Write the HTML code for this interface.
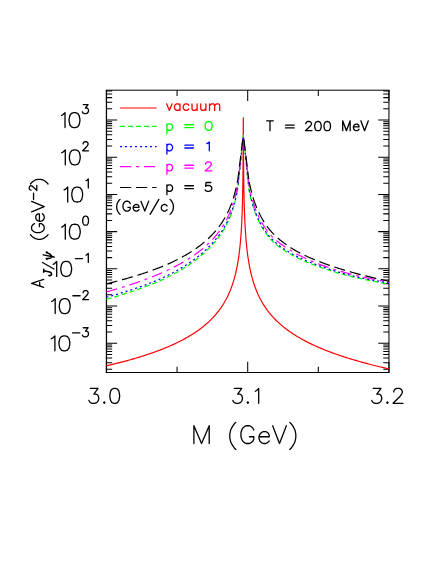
<!DOCTYPE html>
<html><head><meta charset="utf-8"><title>plot</title><style>html,body{margin:0;padding:0;background:#fff;font-family:"Liberation Sans",sans-serif}svg{display:block;position:absolute;left:0;top:0}</style></head><body><svg width="436" height="564" viewBox="0 0 436 564"><path d="M106.45 90.0V373.05" fill="none" stroke="#000" stroke-width="1.25"/>
<path d="M388.95 90.0V373.05" fill="none" stroke="#000" stroke-width="1.05"/>
<path d="M105.85000000000001 90.2H389.45" fill="none" stroke="#000" stroke-width="1.0"/>
<path d="M105.85000000000001 372.5H389.45" fill="none" stroke="#000" stroke-width="1.1"/>
<path d="M106.45 369.20h5.7 M388.95 369.20h-5.7 M106.45 362.65h5.7 M388.95 362.65h-5.7 M106.45 358.00h5.7 M388.95 358.00h-5.7 M106.45 354.40h5.7 M388.95 354.40h-5.7 M106.45 351.45h5.7 M388.95 351.45h-5.7 M106.45 348.96h5.7 M388.95 348.96h-5.7 M106.45 346.81h5.7 M388.95 346.81h-5.7 M106.45 344.90h5.7 M388.95 344.90h-5.7 M106.45 343.20h10.7 M388.95 343.20h-10.7 M106.45 332.00h5.7 M388.95 332.00h-5.7 M106.45 325.45h5.7 M388.95 325.45h-5.7 M106.45 320.80h5.7 M388.95 320.80h-5.7 M106.45 317.20h5.7 M388.95 317.20h-5.7 M106.45 314.25h5.7 M388.95 314.25h-5.7 M106.45 311.76h5.7 M388.95 311.76h-5.7 M106.45 309.61h5.7 M388.95 309.61h-5.7 M106.45 307.70h5.7 M388.95 307.70h-5.7 M106.45 306.00h10.7 M388.95 306.00h-10.7 M106.45 294.80h5.7 M388.95 294.80h-5.7 M106.45 288.25h5.7 M388.95 288.25h-5.7 M106.45 283.60h5.7 M388.95 283.60h-5.7 M106.45 280.00h5.7 M388.95 280.00h-5.7 M106.45 277.05h5.7 M388.95 277.05h-5.7 M106.45 274.56h5.7 M388.95 274.56h-5.7 M106.45 272.41h5.7 M388.95 272.41h-5.7 M106.45 270.50h5.7 M388.95 270.50h-5.7 M106.45 268.80h10.7 M388.95 268.80h-10.7 M106.45 257.60h5.7 M388.95 257.60h-5.7 M106.45 251.05h5.7 M388.95 251.05h-5.7 M106.45 246.40h5.7 M388.95 246.40h-5.7 M106.45 242.80h5.7 M388.95 242.80h-5.7 M106.45 239.85h5.7 M388.95 239.85h-5.7 M106.45 237.36h5.7 M388.95 237.36h-5.7 M106.45 235.21h5.7 M388.95 235.21h-5.7 M106.45 233.30h5.7 M388.95 233.30h-5.7 M106.45 231.60h10.7 M388.95 231.60h-10.7 M106.45 220.40h5.7 M388.95 220.40h-5.7 M106.45 213.85h5.7 M388.95 213.85h-5.7 M106.45 209.20h5.7 M388.95 209.20h-5.7 M106.45 205.60h5.7 M388.95 205.60h-5.7 M106.45 202.65h5.7 M388.95 202.65h-5.7 M106.45 200.16h5.7 M388.95 200.16h-5.7 M106.45 198.01h5.7 M388.95 198.01h-5.7 M106.45 196.10h5.7 M388.95 196.10h-5.7 M106.45 194.40h10.7 M388.95 194.40h-10.7 M106.45 183.20h5.7 M388.95 183.20h-5.7 M106.45 176.65h5.7 M388.95 176.65h-5.7 M106.45 172.00h5.7 M388.95 172.00h-5.7 M106.45 168.40h5.7 M388.95 168.40h-5.7 M106.45 165.45h5.7 M388.95 165.45h-5.7 M106.45 162.96h5.7 M388.95 162.96h-5.7 M106.45 160.81h5.7 M388.95 160.81h-5.7 M106.45 158.90h5.7 M388.95 158.90h-5.7 M106.45 157.20h10.7 M388.95 157.20h-10.7 M106.45 146.00h5.7 M388.95 146.00h-5.7 M106.45 139.45h5.7 M388.95 139.45h-5.7 M106.45 134.80h5.7 M388.95 134.80h-5.7 M106.45 131.20h5.7 M388.95 131.20h-5.7 M106.45 128.25h5.7 M388.95 128.25h-5.7 M106.45 125.76h5.7 M388.95 125.76h-5.7 M106.45 123.61h5.7 M388.95 123.61h-5.7 M106.45 121.70h5.7 M388.95 121.70h-5.7 M106.45 120.00h10.7 M388.95 120.00h-10.7 M106.45 108.80h5.7 M388.95 108.80h-5.7 M106.45 102.25h5.7 M388.95 102.25h-5.7 M106.45 97.60h5.7 M388.95 97.60h-5.7 M106.45 94.00h5.7 M388.95 94.00h-5.7 M106.45 91.05h5.7 M388.95 91.05h-5.7 M106.45 372.5v-10.7 M106.45 90.2v10.7 M177.07 372.5v-5.7 M177.07 90.2v5.7 M247.70 372.5v-10.7 M247.70 90.2v10.7 M318.32 372.5v-5.7 M318.32 90.2v5.7 M388.95 372.5v-10.7 M388.95 90.2v10.7" fill="none" stroke="#000" stroke-width="1.05"/>
<path d="M106.45 365.87 L107.45 365.64 L108.45 365.40 L109.45 365.16 L110.45 364.93 L111.45 364.69 L112.45 364.44 L113.45 364.20 L114.45 363.95 L115.45 363.70 L116.45 363.45 L117.45 363.20 L118.45 362.95 L119.45 362.69 L120.45 362.43 L121.45 362.17 L122.45 361.91 L123.45 361.65 L124.45 361.38 L125.45 361.11 L126.45 360.84 L127.45 360.57 L128.45 360.29 L129.45 360.01 L130.45 359.73 L131.45 359.45 L132.45 359.16 L133.45 358.87 L134.45 358.58 L135.45 358.28 L136.45 357.99 L137.45 357.69 L138.45 357.38 L139.45 357.08 L140.45 356.77 L141.45 356.46 L142.45 356.14 L143.45 355.82 L144.45 355.50 L145.45 355.18 L146.45 354.85 L147.45 354.52 L148.45 354.18 L149.45 353.84 L150.45 353.50 L151.45 353.16 L152.45 352.81 L153.45 352.45 L154.45 352.09 L155.45 351.73 L156.45 351.37 L157.45 351.00 L158.45 350.62 L159.45 350.24 L160.45 349.86 L161.45 349.47 L162.45 349.08 L163.45 348.68 L164.45 348.27 L165.45 347.87 L166.45 347.45 L167.45 347.03 L168.45 346.61 L169.45 346.18 L170.45 345.74 L171.45 345.30 L172.45 344.85 L173.45 344.39 L174.45 343.93 L175.45 343.46 L176.45 342.99 L177.45 342.50 L178.45 342.01 L179.45 341.51 L180.45 341.01 L181.45 340.49 L182.45 339.97 L183.45 339.44 L184.45 338.90 L185.45 338.35 L186.45 337.79 L187.45 337.22 L188.45 336.64 L189.45 336.05 L190.45 335.45 L191.45 334.84 L192.45 334.21 L193.45 333.57 L194.45 332.92 L195.45 332.26 L196.45 331.58 L197.45 330.89 L198.45 330.18 L199.45 329.45 L200.45 328.71 L201.45 327.95 L202.45 327.17 L203.45 326.38 L204.45 325.56 L205.45 324.72 L206.45 323.86 L207.45 322.98 L208.45 322.07 L209.45 321.13 L210.45 320.17 L211.45 319.17 L212.45 318.15 L213.45 317.09 L214.45 315.99 L215.45 314.85 L216.45 313.68 L217.45 312.45 L218.45 311.18 L219.45 309.86 L220.45 308.48 L221.45 307.04 L222.45 305.53 L223.45 303.95 L224.45 302.29 L225.45 300.53 L226.45 298.67 L227.45 296.70 L228.45 294.60 L229.45 292.36 L230.45 289.95 L231.45 287.34 L232.45 284.50 L233.45 281.38 L234.45 277.93 L235.45 274.07 L235.65 273.24 L235.85 272.39 L236.05 271.51 L236.25 270.61 L236.45 269.69 L236.65 268.73 L236.85 267.75 L237.05 266.74 L237.25 265.69 L237.45 264.61 L237.65 263.49 L237.85 262.33 L238.05 261.13 L238.25 259.88 L238.45 258.58 L238.65 257.23 L238.85 255.82 L239.05 254.34 L239.25 252.79 L239.45 251.16 L239.65 249.45 L239.85 247.64 L240.05 245.73 L240.25 243.69 L240.45 241.51 L240.65 239.18 L240.85 236.67 L241.05 233.95 L241.25 230.97 L241.45 227.69 L241.65 224.05 L241.85 219.94 L242.05 215.23 L242.25 209.71 L242.45 203.06 L242.65 194.69 L242.85 183.41 L243.05 166.11 L243.25 131.28 L243.32 117.80 L243.52 156.93 L243.72 178.22 L243.92 191.11 L244.12 200.33 L244.32 207.50 L244.52 213.38 L244.72 218.35 L244.92 222.65 L245.12 226.46 L245.32 229.86 L245.52 232.93 L245.72 235.74 L245.92 238.33 L246.12 240.72 L246.32 242.95 L246.52 245.04 L246.72 247.00 L246.92 248.84 L247.12 250.59 L247.32 252.25 L247.52 253.83 L247.72 255.33 L247.92 256.77 L248.12 258.14 L248.32 259.46 L248.52 260.73 L248.72 261.95 L248.92 263.12 L249.12 264.26 L249.32 265.36 L249.52 266.42 L249.72 267.44 L249.92 268.44 L250.12 269.40 L250.32 270.34 L250.52 271.25 L250.72 272.14 L250.92 273.00 L251.12 273.84 L251.32 274.66 L251.52 275.46 L252.52 279.18 L253.52 282.51 L254.52 285.54 L255.52 288.31 L256.52 290.86 L257.52 293.22 L258.52 295.42 L259.52 297.48 L260.52 299.42 L261.52 301.25 L262.52 302.99 L263.52 304.63 L264.52 306.19 L265.52 307.69 L266.52 309.11 L267.52 310.48 L268.52 311.79 L269.52 313.06 L270.52 314.27 L271.52 315.44 L272.52 316.57 L273.52 317.66 L274.52 318.72 L275.52 319.74 L276.52 320.73 L277.52 321.69 L278.52 322.63 L279.52 323.54 L280.52 324.42 L281.52 325.28 L282.52 326.12 L283.52 326.94 L284.52 327.74 L285.52 328.52 L286.52 329.28 L287.52 330.02 L288.52 330.75 L289.52 331.46 L290.52 332.15 L291.52 332.83 L292.52 333.50 L293.52 334.15 L294.52 334.79 L295.52 335.42 L296.52 336.04 L297.52 336.65 L298.52 337.24 L299.52 337.82 L300.52 338.40 L301.52 338.96 L302.52 339.52 L303.52 340.06 L304.52 340.60 L305.52 341.12 L306.52 341.64 L307.52 342.15 L308.52 342.66 L309.52 343.15 L310.52 343.64 L311.52 344.12 L312.52 344.60 L313.52 345.06 L314.52 345.52 L315.52 345.98 L316.52 346.43 L317.52 346.87 L318.52 347.30 L319.52 347.73 L320.52 348.16 L321.52 348.58 L322.52 348.99 L323.52 349.40 L324.52 349.81 L325.52 350.21 L326.52 350.60 L327.52 350.99 L328.52 351.37 L329.52 351.76 L330.52 352.13 L331.52 352.50 L332.52 352.87 L333.52 353.24 L334.52 353.60 L335.52 353.95 L336.52 354.30 L337.52 354.65 L338.52 355.00 L339.52 355.34 L340.52 355.68 L341.52 356.01 L342.52 356.34 L343.52 356.67 L344.52 356.99 L345.52 357.32 L346.52 357.63 L347.52 357.95 L348.52 358.26 L349.52 358.57 L350.52 358.88 L351.52 359.18 L352.52 359.48 L353.52 359.78 L354.52 360.08 L355.52 360.37 L356.52 360.66 L357.52 360.95 L358.52 361.23 L359.52 361.51 L360.52 361.79 L361.52 362.07 L362.52 362.35 L363.52 362.62 L364.52 362.89 L365.52 363.16 L366.52 363.43 L367.52 363.69 L368.52 363.96 L369.52 364.22 L370.52 364.48 L371.52 364.73 L372.52 364.99 L373.52 365.24 L374.52 365.49 L375.52 365.74 L376.52 365.99 L377.52 366.23 L378.52 366.48 L379.52 366.72 L380.52 366.96 L381.52 367.20 L382.52 367.43 L383.52 367.67 L384.52 367.90 L385.52 368.13 L386.52 368.36 L387.52 368.59 L388.52 368.82 L388.95 368.92" fill="none" stroke="#ff0000" stroke-width="1.2" stroke-linejoin="round"/>
<path d="M106.45 299.31 L107.45 299.03 L108.45 298.74 L109.45 298.46 L110.45 298.17 L111.45 297.88 L112.45 297.58 L113.45 297.29 L114.45 296.99 L115.45 296.70 L116.45 296.39 L117.45 296.09 L118.45 295.79 L119.45 295.48 L120.45 295.17 L121.45 294.86 L122.45 294.55 L123.45 294.23 L124.45 293.92 L125.45 293.60 L126.45 293.27 L127.45 292.95 L128.45 292.62 L129.45 292.29 L130.45 291.96 L131.45 291.63 L132.45 291.29 L133.45 290.95 L134.45 290.61 L135.45 290.26 L136.45 289.92 L137.45 289.57 L138.45 289.21 L139.45 288.86 L140.45 288.50 L141.45 288.14 L142.45 287.77 L143.45 287.40 L144.45 287.03 L145.45 286.65 L146.45 286.28 L147.45 285.89 L148.45 285.51 L149.45 285.12 L150.45 284.73 L151.45 284.33 L152.45 283.93 L153.45 283.52 L154.45 283.12 L155.45 282.70 L156.45 282.29 L157.45 281.87 L158.45 281.44 L159.45 281.01 L160.45 280.58 L161.45 280.14 L162.45 279.69 L163.45 279.23 L164.45 278.74 L165.45 278.25 L166.45 277.76 L167.45 277.26 L168.45 276.75 L169.45 276.24 L170.45 275.72 L171.45 275.19 L172.45 274.66 L173.45 274.13 L174.45 273.58 L175.45 273.03 L176.45 272.47 L177.45 271.91 L178.45 271.33 L179.45 270.75 L180.45 270.17 L181.45 269.57 L182.45 268.97 L183.45 268.35 L184.45 267.73 L185.45 267.10 L186.45 266.46 L187.45 265.80 L188.45 265.14 L189.45 264.47 L190.45 263.79 L191.45 263.09 L192.45 262.38 L193.45 261.66 L194.45 260.93 L195.45 260.19 L196.45 259.43 L197.45 258.65 L198.45 257.86 L199.45 257.05 L200.45 256.23 L201.45 255.39 L202.45 254.53 L203.45 253.65 L204.45 252.76 L205.45 251.84 L206.45 250.89 L207.45 249.93 L208.45 248.94 L209.45 247.92 L210.45 246.87 L211.45 245.80 L212.45 244.69 L213.45 243.60 L214.45 242.48 L215.45 241.31 L216.45 240.11 L217.45 238.85 L218.45 237.56 L219.45 236.20 L220.45 234.80 L221.45 233.33 L222.45 231.79 L223.45 230.18 L224.45 228.49 L225.45 226.71 L226.45 224.83 L227.45 222.84 L228.45 220.72 L229.45 218.45 L230.45 216.02 L231.45 213.40 L232.45 210.55 L233.45 207.44 L234.45 204.01 L235.45 200.17 L236.45 195.85 L237.45 190.87 L237.92 188.25" fill="none" stroke="#00ff00" stroke-width="1.2" stroke-dasharray="5.1 2.93" stroke-linejoin="round"/>
<path d="M388.95 284.05 L388.72 284.01 L387.72 283.84 L386.72 283.68 L385.72 283.51 L384.72 283.33 L383.72 283.16 L382.72 282.99 L381.72 282.81 L380.72 282.63 L379.72 282.45 L378.72 282.27 L377.72 282.08 L376.72 281.90 L375.72 281.71 L374.72 281.52 L373.72 281.33 L372.72 281.14 L371.72 280.94 L370.72 280.75 L369.72 280.55 L368.72 280.35 L367.72 280.15 L366.72 279.94 L365.72 279.73 L364.72 279.52 L363.72 279.31 L362.72 279.10 L361.72 278.88 L360.72 278.67 L359.72 278.44 L358.72 278.22 L357.72 278.00 L356.72 277.77 L355.72 277.54 L354.72 277.31 L353.72 277.07 L352.72 276.83 L351.72 276.59 L350.72 276.34 L349.72 276.09 L348.72 275.84 L347.72 275.59 L346.72 275.33 L345.72 275.07 L344.72 274.81 L343.72 274.54 L342.72 274.27 L341.72 274.00 L340.72 273.72 L339.72 273.44 L338.72 273.16 L337.72 272.87 L336.72 272.58 L335.72 272.29 L334.72 271.99 L333.72 271.69 L332.72 271.38 L331.72 271.07 L330.72 270.76 L329.72 270.44 L328.72 270.12 L327.72 269.79 L326.72 269.46 L325.72 269.13 L324.72 268.79 L323.72 268.44 L322.72 268.09 L321.72 267.73 L320.72 267.37 L319.72 267.01 L318.72 266.64 L317.72 266.28 L316.72 265.94 L315.72 265.59 L314.72 265.24 L313.72 264.87 L312.72 264.51 L311.72 264.13 L310.72 263.75 L309.72 263.36 L308.72 262.97 L307.72 262.56 L306.72 262.15 L305.72 261.73 L304.72 261.30 L303.72 260.87 L302.72 260.42 L301.72 259.97 L300.72 259.51 L299.72 259.03 L298.72 258.55 L297.72 258.05 L296.72 257.55 L295.72 257.03 L294.72 256.51 L293.72 255.97 L292.72 255.41 L291.72 254.85 L290.72 254.27 L289.72 253.69 L288.72 253.12 L287.72 252.54 L286.72 251.94 L285.72 251.32 L284.72 250.69 L283.72 250.04 L282.72 249.36 L281.72 248.67 L280.72 247.96 L279.72 247.22 L278.72 246.45 L277.72 245.67 L276.72 244.85 L275.72 244.01 L274.72 243.13 L273.72 242.22 L272.72 241.28 L271.72 240.30 L270.72 239.28 L269.72 238.22 L268.72 237.09 L267.72 235.81 L266.72 234.48 L265.72 233.09 L264.72 231.64 L263.72 230.11 L262.72 228.51 L261.72 226.82 L260.72 225.04 L259.72 223.16 L258.72 221.15 L257.72 219.01 L256.72 216.72 L255.72 214.25 L254.72 211.57 L253.72 208.65 L252.72 205.44 L251.72 201.87 L250.72 197.87 L249.72 193.30 L248.72 188.00" fill="none" stroke="#00ff00" stroke-width="1.2" stroke-dasharray="5.1 2.93" stroke-dashoffset="5.1" stroke-linejoin="round"/>
<path d="M243.32 134.80 L237.92 188.25" fill="none" stroke="#00ff00" stroke-width="1.2" stroke-dasharray="5.1 2.93" stroke-dashoffset="2.1" stroke-linejoin="round"/>
<path d="M243.32 134.80 L248.72 188.00" fill="none" stroke="#00ff00" stroke-width="1.2" stroke-dasharray="5.1 2.93" stroke-dashoffset="2.1" stroke-linejoin="round"/>
<path d="M106.45 297.30 L107.45 297.02 L108.45 296.74 L109.45 296.46 L110.45 296.18 L111.45 295.89 L112.45 295.61 L113.45 295.32 L114.45 295.03 L115.45 294.73 L116.45 294.44 L117.45 294.14 L118.45 293.84 L119.45 293.54 L120.45 293.24 L121.45 292.93 L122.45 292.63 L123.45 292.32 L124.45 292.00 L125.45 291.69 L126.45 291.37 L127.45 291.05 L128.45 290.73 L129.45 290.41 L130.45 290.08 L131.45 289.75 L132.45 289.42 L133.45 289.09 L134.45 288.75 L135.45 288.41 L136.45 288.07 L137.45 287.73 L138.45 287.38 L139.45 287.03 L140.45 286.67 L141.45 286.32 L142.45 285.96 L143.45 285.59 L144.45 285.23 L145.45 284.86 L146.45 284.48 L147.45 284.11 L148.45 283.73 L149.45 283.34 L150.45 282.96 L151.45 282.56 L152.45 282.17 L153.45 281.77 L154.45 281.37 L155.45 280.96 L156.45 280.55 L157.45 280.13 L158.45 279.72 L159.45 279.29 L160.45 278.86 L161.45 278.43 L162.45 277.99 L163.45 277.53 L164.45 277.04 L165.45 276.55 L166.45 276.06 L167.45 275.56 L168.45 275.05 L169.45 274.54 L170.45 274.02 L171.45 273.49 L172.45 272.96 L173.45 272.42 L174.45 271.88 L175.45 271.33 L176.45 270.77 L177.45 270.21 L178.45 269.63 L179.45 269.05 L180.45 268.46 L181.45 267.87 L182.45 267.26 L183.45 266.65 L184.45 266.03 L185.45 265.40 L186.45 264.75 L187.45 264.10 L188.45 263.44 L189.45 262.77 L190.45 262.09 L191.45 261.39 L192.45 260.68 L193.45 259.96 L194.45 259.23 L195.45 258.48 L196.45 257.72 L197.45 256.95 L198.45 256.16 L199.45 255.35 L200.45 254.53 L201.45 253.69 L202.45 252.83 L203.45 251.95 L204.45 251.05 L205.45 250.13 L206.45 249.19 L207.45 248.23 L208.45 247.23 L209.45 246.22 L210.45 245.17 L211.45 244.10 L212.45 242.99 L213.45 241.92 L214.45 240.80 L215.45 239.65 L216.45 238.46 L217.45 237.23 L218.45 235.94 L219.45 234.60 L220.45 233.21 L221.45 231.76 L222.45 230.24 L223.45 228.64 L224.45 226.96 L225.45 225.20 L226.45 223.33 L227.45 221.35 L228.45 219.25 L229.45 217.00 L230.45 214.58 L231.45 211.98 L232.45 209.15 L233.45 206.05 L234.45 202.63 L235.45 198.82 L236.45 194.51 L237.45 189.57 L237.92 186.96" fill="none" stroke="#0000ff" stroke-width="1.2" stroke-dasharray="2 3" stroke-linejoin="round"/>
<path d="M388.95 282.91 L388.72 282.87 L387.72 282.71 L386.72 282.55 L385.72 282.39 L384.72 282.23 L383.72 282.06 L382.72 281.89 L381.72 281.72 L380.72 281.55 L379.72 281.38 L378.72 281.21 L377.72 281.03 L376.72 280.85 L375.72 280.67 L374.72 280.49 L373.72 280.31 L372.72 280.12 L371.72 279.93 L370.72 279.74 L369.72 279.55 L368.72 279.36 L367.72 279.17 L366.72 278.97 L365.72 278.77 L364.72 278.57 L363.72 278.36 L362.72 278.16 L361.72 277.95 L360.72 277.74 L359.72 277.53 L358.72 277.31 L357.72 277.09 L356.72 276.87 L355.72 276.65 L354.72 276.42 L353.72 276.20 L352.72 275.95 L351.72 275.69 L350.72 275.44 L349.72 275.18 L348.72 274.92 L347.72 274.66 L346.72 274.39 L345.72 274.12 L344.72 273.85 L343.72 273.57 L342.72 273.29 L341.72 273.01 L340.72 272.72 L339.72 272.43 L338.72 272.14 L337.72 271.84 L336.72 271.54 L335.72 271.24 L334.72 270.93 L333.72 270.62 L332.72 270.30 L331.72 269.98 L330.72 269.66 L329.72 269.33 L328.72 269.00 L327.72 268.66 L326.72 268.32 L325.72 267.98 L324.72 267.63 L323.72 267.27 L322.72 266.91 L321.72 266.54 L320.72 266.17 L319.72 265.80 L318.72 265.41 L317.72 265.06 L316.72 264.72 L315.72 264.37 L314.72 264.02 L313.72 263.66 L312.72 263.29 L311.72 262.92 L310.72 262.54 L309.72 262.16 L308.72 261.76 L307.72 261.36 L306.72 260.95 L305.72 260.53 L304.72 260.11 L303.72 259.68 L302.72 259.23 L301.72 258.78 L300.72 258.32 L299.72 257.85 L298.72 257.37 L297.72 256.87 L296.72 256.37 L295.72 255.86 L294.72 255.33 L293.72 254.79 L292.72 254.24 L291.72 253.68 L290.72 253.10 L289.72 252.52 L288.72 251.94 L287.72 251.35 L286.72 250.74 L285.72 250.11 L284.72 249.47 L283.72 248.80 L282.72 248.12 L281.72 247.42 L280.72 246.69 L279.72 245.94 L278.72 245.17 L277.72 244.37 L276.72 243.54 L275.72 242.69 L274.72 241.80 L273.72 240.89 L272.72 239.93 L271.72 238.94 L270.72 237.91 L269.72 236.84 L268.72 235.70 L267.72 234.43 L266.72 233.10 L265.72 231.72 L264.72 230.27 L263.72 228.75 L262.72 227.16 L261.72 225.47 L260.72 223.70 L259.72 221.82 L258.72 219.82 L257.72 217.68 L256.72 215.39 L255.72 212.93 L254.72 210.26 L253.72 207.35 L252.72 204.14 L251.72 200.59 L250.72 196.59 L249.72 192.04 L248.72 186.76" fill="none" stroke="#0000ff" stroke-width="1.2" stroke-dasharray="2 3" stroke-dashoffset="0" stroke-linejoin="round"/>
<path d="M243.32 134.80 L237.92 186.96" fill="none" stroke="#0000ff" stroke-width="1.2" stroke-dasharray="2 3" stroke-dashoffset="2" stroke-linejoin="round"/>
<path d="M243.32 134.80 L248.72 186.76" fill="none" stroke="#0000ff" stroke-width="1.2" stroke-dasharray="2 3" stroke-dashoffset="2" stroke-linejoin="round"/>
<path d="M106.45 291.91 L107.45 291.63 L108.45 291.35 L109.45 291.07 L110.45 290.78 L111.45 290.50 L112.45 290.21 L113.45 289.92 L114.45 289.63 L115.45 289.33 L116.45 289.04 L117.45 288.74 L118.45 288.44 L119.45 288.14 L120.45 287.83 L121.45 287.53 L122.45 287.22 L123.45 286.91 L124.45 286.60 L125.45 286.28 L126.45 285.96 L127.45 285.65 L128.45 285.32 L129.45 285.00 L130.45 284.67 L131.45 284.34 L132.45 284.01 L133.45 283.68 L134.45 283.34 L135.45 283.00 L136.45 282.65 L137.45 282.31 L138.45 281.96 L139.45 281.61 L140.45 281.25 L141.45 280.90 L142.45 280.54 L143.45 280.17 L144.45 279.80 L145.45 279.43 L146.45 279.06 L147.45 278.68 L148.45 278.30 L149.45 277.92 L150.45 277.53 L151.45 277.14 L152.45 276.74 L153.45 276.34 L154.45 275.94 L155.45 275.53 L156.45 275.12 L157.45 274.70 L158.45 274.28 L159.45 273.86 L160.45 273.43 L161.45 272.99 L162.45 272.56 L163.45 272.11 L164.45 271.67 L165.45 271.21 L166.45 270.76 L167.45 270.29 L168.45 269.82 L169.45 269.35 L170.45 268.87 L171.45 268.38 L172.45 267.89 L173.45 267.39 L174.45 266.89 L175.45 266.37 L176.45 265.86 L177.45 265.33 L178.45 264.79 L179.45 264.25 L180.45 263.70 L181.45 263.15 L182.45 262.58 L183.45 262.00 L184.45 261.42 L185.45 260.83 L186.45 260.22 L187.45 259.61 L188.45 258.99 L189.45 258.35 L190.45 257.71 L191.45 257.05 L192.45 256.38 L193.45 255.70 L194.45 255.01 L195.45 254.30 L196.45 253.58 L197.45 252.84 L198.45 252.09 L199.45 251.32 L200.45 250.54 L201.45 249.74 L202.45 248.92 L203.45 248.08 L204.45 247.22 L205.45 246.34 L206.45 245.43 L207.45 244.51 L208.45 243.55 L209.45 242.58 L210.45 241.57 L211.45 240.53 L212.45 239.46 L213.45 238.39 L214.45 237.28 L215.45 236.12 L216.45 234.93 L217.45 233.69 L218.45 232.41 L219.45 231.07 L220.45 229.68 L221.45 228.22 L222.45 226.70 L223.45 225.11 L224.45 223.43 L225.45 221.66 L226.45 219.80 L227.45 217.82 L228.45 215.72 L229.45 213.47 L230.45 211.06 L231.45 208.45 L232.45 205.63 L233.45 202.54 L234.45 199.13 L235.45 195.34 L236.45 191.05 L237.45 186.14 L237.92 183.55" fill="none" stroke="#ff00ff" stroke-width="1.2" stroke-dasharray="11.2 4.85 3 4.85" stroke-linejoin="round"/>
<path d="M388.95 282.02 L388.72 281.98 L387.72 281.81 L386.72 281.63 L385.72 281.46 L384.72 281.28 L383.72 281.10 L382.72 280.92 L381.72 280.74 L380.72 280.56 L379.72 280.37 L378.72 280.19 L377.72 280.00 L376.72 279.81 L375.72 279.62 L374.72 279.42 L373.72 279.23 L372.72 279.03 L371.72 278.83 L370.72 278.63 L369.72 278.43 L368.72 278.22 L367.72 278.01 L366.72 277.80 L365.72 277.59 L364.72 277.38 L363.72 277.16 L362.72 276.94 L361.72 276.72 L360.72 276.50 L359.72 276.27 L358.72 276.05 L357.72 275.82 L356.72 275.58 L355.72 275.35 L354.72 275.11 L353.72 274.87 L352.72 274.62 L351.72 274.36 L350.72 274.10 L349.72 273.84 L348.72 273.57 L347.72 273.31 L346.72 273.04 L345.72 272.76 L344.72 272.48 L343.72 272.20 L342.72 271.92 L341.72 271.63 L340.72 271.34 L339.72 271.05 L338.72 270.75 L337.72 270.45 L336.72 270.15 L335.72 269.84 L334.72 269.53 L333.72 269.21 L332.72 268.90 L331.72 268.57 L330.72 268.24 L329.72 267.91 L328.72 267.58 L327.72 267.24 L326.72 266.89 L325.72 266.54 L324.72 266.19 L323.72 265.83 L322.72 265.46 L321.72 265.09 L320.72 264.72 L319.72 264.34 L318.72 263.95 L317.72 263.57 L316.72 263.18 L315.72 262.79 L314.72 262.40 L313.72 261.99 L312.72 261.58 L311.72 261.17 L310.72 260.74 L309.72 260.31 L308.72 259.88 L307.72 259.43 L306.72 258.98 L305.72 258.52 L304.72 258.05 L303.72 257.57 L302.72 257.08 L301.72 256.59 L300.72 256.08 L299.72 255.56 L298.72 255.04 L297.72 254.50 L296.72 253.96 L295.72 253.40 L294.72 252.83 L293.72 252.25 L292.72 251.65 L291.72 251.04 L290.72 250.42 L289.72 249.81 L288.72 249.22 L287.72 248.62 L286.72 248.00 L285.72 247.37 L284.72 246.72 L283.72 246.04 L282.72 245.35 L281.72 244.64 L280.72 243.91 L279.72 243.15 L278.72 242.37 L277.72 241.56 L276.72 240.73 L275.72 239.86 L274.72 238.97 L273.72 238.04 L272.72 237.08 L271.72 236.08 L270.72 235.04 L269.72 233.96 L268.72 232.82 L267.72 231.52 L266.72 230.16 L265.72 228.75 L264.72 227.28 L263.72 225.73 L262.72 224.11 L261.72 222.41 L260.72 220.61 L259.72 218.70 L258.72 216.68 L257.72 214.52 L256.72 212.21 L255.72 209.72 L254.72 207.03 L253.72 204.09 L252.72 200.87 L251.72 197.30 L250.72 193.30 L249.72 188.75 L248.72 183.49" fill="none" stroke="#ff00ff" stroke-width="1.2" stroke-dasharray="11.2 4.85 3 4.85" stroke-dashoffset="9.55" stroke-linejoin="round"/>
<path d="M243.32 134.80 L237.92 183.55" fill="none" stroke="#ff00ff" stroke-width="1.2" stroke-dasharray="11.2 4.85 3 4.85" stroke-dashoffset="19.05" stroke-linejoin="round"/>
<path d="M243.32 134.80 L248.72 183.49" fill="none" stroke="#ff00ff" stroke-width="1.2" stroke-dasharray="11.2 4.85 3 4.85" stroke-dashoffset="19.05" stroke-linejoin="round"/>
<path d="M106.45 283.79 L107.45 283.55 L108.45 283.30 L109.45 283.06 L110.45 282.81 L111.45 282.56 L112.45 282.31 L113.45 282.05 L114.45 281.80 L115.45 281.54 L116.45 281.28 L117.45 281.02 L118.45 280.75 L119.45 280.49 L120.45 280.22 L121.45 279.95 L122.45 279.67 L123.45 279.40 L124.45 279.12 L125.45 278.84 L126.45 278.56 L127.45 278.28 L128.45 277.99 L129.45 277.70 L130.45 277.41 L131.45 277.12 L132.45 276.82 L133.45 276.52 L134.45 276.22 L135.45 275.91 L136.45 275.61 L137.45 275.30 L138.45 274.98 L139.45 274.67 L140.45 274.35 L141.45 274.03 L142.45 273.70 L143.45 273.37 L144.45 273.04 L145.45 272.71 L146.45 272.37 L147.45 272.03 L148.45 271.68 L149.45 271.33 L150.45 270.98 L151.45 270.62 L152.45 270.26 L153.45 269.90 L154.45 269.53 L155.45 269.16 L156.45 268.78 L157.45 268.40 L158.45 268.02 L159.45 267.63 L160.45 267.24 L161.45 266.84 L162.45 266.43 L163.45 266.02 L164.45 265.59 L165.45 265.16 L166.45 264.73 L167.45 264.29 L168.45 263.84 L169.45 263.39 L170.45 262.93 L171.45 262.46 L172.45 261.99 L173.45 261.52 L174.45 261.03 L175.45 260.54 L176.45 260.04 L177.45 259.54 L178.45 259.03 L179.45 258.51 L180.45 257.98 L181.45 257.44 L182.45 256.90 L183.45 256.34 L184.45 255.78 L185.45 255.21 L186.45 254.63 L187.45 254.04 L188.45 253.44 L189.45 252.82 L190.45 252.20 L191.45 251.57 L192.45 250.92 L193.45 250.26 L194.45 249.59 L195.45 248.90 L196.45 248.20 L197.45 247.49 L198.45 246.76 L199.45 246.01 L200.45 245.25 L201.45 244.47 L202.45 243.67 L203.45 242.85 L204.45 242.01 L205.45 241.15 L206.45 240.27 L207.45 239.37 L208.45 238.44 L209.45 237.48 L210.45 236.49 L211.45 235.48 L212.45 234.43 L213.45 233.37 L214.45 232.27 L215.45 231.13 L216.45 229.95 L217.45 228.72 L218.45 227.45 L219.45 226.13 L220.45 224.75 L221.45 223.30 L222.45 221.80 L223.45 220.21 L224.45 218.55 L225.45 216.80 L226.45 214.95 L227.45 212.99 L228.45 210.90 L229.45 208.67 L230.45 206.27 L231.45 203.69 L232.45 200.89 L233.45 197.83 L234.45 194.45 L235.45 190.69 L236.45 186.46 L237.45 181.61 L237.92 179.07" fill="none" stroke="#000" stroke-width="1.2" stroke-dasharray="11.2 4.85" stroke-linejoin="round"/>
<path d="M388.95 281.25 L388.72 281.21 L387.72 281.00 L386.72 280.78 L385.72 280.57 L384.72 280.36 L383.72 280.14 L382.72 279.92 L381.72 279.70 L380.72 279.48 L379.72 279.26 L378.72 279.03 L377.72 278.81 L376.72 278.58 L375.72 278.35 L374.72 278.12 L373.72 277.88 L372.72 277.65 L371.72 277.41 L370.72 277.17 L369.72 276.93 L368.72 276.69 L367.72 276.44 L366.72 276.19 L365.72 275.94 L364.72 275.69 L363.72 275.44 L362.72 275.18 L361.72 274.92 L360.72 274.66 L359.72 274.40 L358.72 274.13 L357.72 273.86 L356.72 273.59 L355.72 273.32 L354.72 273.05 L353.72 272.77 L352.72 272.50 L351.72 272.22 L350.72 271.95 L349.72 271.67 L348.72 271.39 L347.72 271.10 L346.72 270.82 L345.72 270.53 L344.72 270.23 L343.72 269.94 L342.72 269.64 L341.72 269.34 L340.72 269.03 L339.72 268.72 L338.72 268.41 L337.72 268.09 L336.72 267.77 L335.72 267.45 L334.72 267.12 L333.72 266.79 L332.72 266.45 L331.72 266.11 L330.72 265.77 L329.72 265.42 L328.72 265.07 L327.72 264.71 L326.72 264.35 L325.72 263.99 L324.72 263.62 L323.72 263.24 L322.72 262.86 L321.72 262.47 L320.72 262.08 L319.72 261.69 L318.72 261.29 L317.72 260.90 L316.72 260.51 L315.72 260.12 L314.72 259.72 L313.72 259.31 L312.72 258.90 L311.72 258.48 L310.72 258.06 L309.72 257.62 L308.72 257.19 L307.72 256.74 L306.72 256.28 L305.72 255.82 L304.72 255.35 L303.72 254.87 L302.72 254.38 L301.72 253.88 L300.72 253.38 L299.72 252.86 L298.72 252.33 L297.72 251.79 L296.72 251.25 L295.72 250.69 L294.72 250.11 L293.72 249.53 L292.72 248.93 L291.72 248.32 L290.72 247.70 L289.72 247.06 L288.72 246.40 L287.72 245.73 L286.72 245.04 L285.72 244.33 L284.72 243.61 L283.72 242.86 L282.72 242.10 L281.72 241.31 L280.72 240.51 L279.72 239.68 L278.72 238.83 L277.72 237.95 L276.72 237.04 L275.72 236.11 L274.72 235.14 L273.72 234.14 L272.72 233.11 L271.72 232.04 L270.72 230.93 L269.72 229.77 L268.72 228.57 L267.72 227.25 L266.72 225.88 L265.72 224.46 L264.72 222.97 L263.72 221.41 L262.72 219.77 L261.72 218.05 L260.72 216.24 L259.72 214.32 L258.72 212.28 L257.72 210.11 L256.72 207.79 L255.72 205.29 L254.72 202.59 L253.72 199.66 L252.72 196.43 L251.72 192.87 L250.72 188.88 L249.72 184.36 L248.72 179.16" fill="none" stroke="#000" stroke-width="1.2" stroke-dasharray="11.2 4.85" stroke-dashoffset="3.0" stroke-linejoin="round"/>
<path d="M243.32 134.80 L237.92 179.07" fill="none" stroke="#000" stroke-width="1.2" stroke-dasharray="11.2 4.85" stroke-dashoffset="11.2" stroke-linejoin="round"/>
<path d="M243.32 134.80 L248.72 179.16" fill="none" stroke="#000" stroke-width="1.2" stroke-dasharray="11.2 4.85" stroke-dashoffset="11.2" stroke-linejoin="round"/>
<path d="M120.0 108.0H156.6" fill="none" stroke="#ff0000" stroke-width="1.2"/>
<path d="M120.0 126.3H156.6" fill="none" stroke="#00ff00" stroke-width="1.2" stroke-dasharray="5.1 2.93"/>
<path d="M120.0 146.7H156.6" fill="none" stroke="#0000ff" stroke-width="1.2" stroke-dasharray="2 3"/>
<path d="M120.0 166.7H156.6" fill="none" stroke="#ff00ff" stroke-width="1.2" stroke-dasharray="11.2 4.85 3 4.85"/>
<path d="M120.0 187.5H156.6" fill="none" stroke="#000" stroke-width="1.2" stroke-dasharray="11.2 4.85"/>
<path d="M166.60 103.82 L169.37 110.40 M172.14 103.82 L169.37 110.40 M179.99 103.82 L179.99 110.40 M179.99 105.23 L179.07 104.29 L178.14 103.82 L176.76 103.82 L175.83 104.29 L174.91 105.23 L174.45 106.64 L174.45 107.58 L174.91 108.99 L175.83 109.93 L176.76 110.40 L178.14 110.40 L179.07 109.93 L179.99 108.99 M188.76 105.23 L187.84 104.29 L186.92 103.82 L185.53 103.82 L184.61 104.29 L183.68 105.23 L183.22 106.64 L183.22 107.58 L183.68 108.99 L184.61 109.93 L185.53 110.40 L186.92 110.40 L187.84 109.93 L188.76 108.99 M192.00 103.82 L192.00 108.52 L192.46 109.93 L193.38 110.40 L194.77 110.40 L195.69 109.93 L197.07 108.52 M197.07 103.82 L197.07 110.40 M200.77 103.82 L200.77 108.52 L201.23 109.93 L202.15 110.40 L203.54 110.40 L204.46 109.93 L205.85 108.52 M205.85 103.82 L205.85 110.40 M209.54 103.82 L209.54 110.40 M209.54 105.70 L210.93 104.29 L211.85 103.82 L213.24 103.82 L214.16 104.29 L214.62 105.70 L214.62 110.40 M214.62 105.70 L216.01 104.29 L216.93 103.82 L218.31 103.82 L219.24 104.29 L219.70 105.70 L219.70 110.40" fill="none" stroke="#ff0000" stroke-width="1.3" stroke-linecap="round" stroke-linejoin="round"/>
<path d="M166.90 123.82 L166.90 133.69 M166.90 125.23 L167.85 124.29 L168.79 123.82 L170.21 123.82 L171.16 124.29 L172.11 125.23 L172.58 126.64 L172.58 127.58 L172.11 128.99 L171.16 129.93 L170.21 130.40 L168.79 130.40 L167.85 129.93 L166.90 128.99 M184.88 124.76 L193.40 124.76 M184.88 127.58 L193.40 127.58" fill="none" stroke="#00ff00" stroke-width="1.3" stroke-linecap="round" stroke-linejoin="round"/>
<path d="M208.10 121.52 L206.60 121.94 L205.60 123.21 L205.10 125.32 L205.10 126.59 L205.60 128.71 L206.60 129.98 L208.10 130.40 L209.10 130.40 L210.60 129.98 L211.60 128.71 L212.10 126.59 L212.10 125.32 L211.60 123.21 L210.60 121.94 L209.10 121.52 L208.10 121.52" fill="none" stroke="#00ff00" stroke-width="1.3" stroke-linecap="round" stroke-linejoin="round"/>
<path d="M166.90 144.22 L166.90 154.09 M166.90 145.63 L167.85 144.69 L168.79 144.22 L170.21 144.22 L171.16 144.69 L172.11 145.63 L172.58 147.04 L172.58 147.98 L172.11 149.39 L171.16 150.33 L170.21 150.80 L168.79 150.80 L167.85 150.33 L166.90 149.39 M184.88 145.16 L193.40 145.16 M184.88 147.98 L193.40 147.98" fill="none" stroke="#0000ff" stroke-width="1.3" stroke-linecap="round" stroke-linejoin="round"/>
<path d="M206.80 143.61 L207.80 143.19 L209.30 141.92 L209.30 150.80" fill="none" stroke="#0000ff" stroke-width="1.3" stroke-linecap="round" stroke-linejoin="round"/>
<path d="M166.90 164.32 L166.90 174.19 M166.90 165.73 L167.85 164.79 L168.79 164.32 L170.21 164.32 L171.16 164.79 L172.11 165.73 L172.58 167.14 L172.58 168.08 L172.11 169.49 L171.16 170.43 L170.21 170.90 L168.79 170.90 L167.85 170.43 L166.90 169.49 M184.88 165.26 L193.40 165.26 M184.88 168.08 L193.40 168.08" fill="none" stroke="#ff00ff" stroke-width="1.3" stroke-linecap="round" stroke-linejoin="round"/>
<path d="M205.58 164.13 L205.58 163.71 L206.06 162.86 L206.54 162.44 L207.49 162.02 L209.41 162.02 L210.36 162.44 L210.84 162.86 L211.32 163.71 L211.32 164.56 L210.84 165.40 L209.89 166.67 L205.10 170.90 L211.80 170.90" fill="none" stroke="#ff00ff" stroke-width="1.3" stroke-linecap="round" stroke-linejoin="round"/>
<path d="M166.90 184.82 L166.90 194.69 M166.90 186.23 L167.85 185.29 L168.79 184.82 L170.21 184.82 L171.16 185.29 L172.11 186.23 L172.58 187.64 L172.58 188.58 L172.11 189.99 L171.16 190.93 L170.21 191.40 L168.79 191.40 L167.85 190.93 L166.90 189.99 M184.88 185.76 L193.40 185.76 M184.88 188.58 L193.40 188.58" fill="none" stroke="#000" stroke-width="1.3" stroke-linecap="round" stroke-linejoin="round"/>
<path d="M210.84 182.52 L206.06 182.52 L205.58 186.32 L206.06 185.90 L207.49 185.48 L208.93 185.48 L210.36 185.90 L211.32 186.75 L211.80 188.02 L211.80 188.86 L211.32 190.13 L210.36 190.98 L208.93 191.40 L207.49 191.40 L206.06 190.98 L205.58 190.55 L205.10 189.71" fill="none" stroke="#000" stroke-width="1.3" stroke-linecap="round" stroke-linejoin="round"/>
<path d="M120.09 199.35 L119.12 200.29 L118.15 201.70 L117.18 203.58 L116.70 205.93 L116.70 207.81 L117.18 210.16 L118.15 212.04 L119.12 213.45 L120.09 214.39 M130.27 203.58 L129.78 202.64 L128.82 201.70 L127.85 201.23 L125.91 201.23 L124.94 201.70 L123.97 202.64 L123.48 203.58 L123.00 204.99 L123.00 207.34 L123.48 208.75 L123.97 209.69 L124.94 210.63 L125.91 211.10 L127.85 211.10 L128.82 210.63 L129.78 209.69 L130.27 208.75 L130.27 207.34 M127.85 207.34 L130.27 207.34 M133.18 207.34 L138.99 207.34 L138.99 206.40 L138.51 205.46 L138.02 204.99 L137.05 204.52 L135.60 204.52 L134.63 204.99 L133.66 205.93 L133.18 207.34 L133.18 208.28 L133.66 209.69 L134.63 210.63 L135.60 211.10 L137.05 211.10 L138.02 210.63 L138.99 209.69 M140.93 201.23 L144.81 211.10 M148.68 201.23 L144.81 211.10 M158.86 199.35 L150.14 214.39 M167.10 205.93 L166.13 204.99 L165.16 204.52 L163.71 204.52 L162.74 204.99 L161.77 205.93 L161.28 207.34 L161.28 208.28 L161.77 209.69 L162.74 210.63 L163.71 211.10 L165.16 211.10 L166.13 210.63 L167.10 209.69 M170.01 199.35 L170.98 200.29 L171.95 201.70 L172.92 203.58 L173.40 205.93 L173.40 207.81 L172.92 210.16 L171.95 212.04 L170.98 213.45 L170.01 214.39" fill="none" stroke="#000" stroke-width="1.3" stroke-linecap="round" stroke-linejoin="round"/>
<path d="M270.00 120.83 L270.00 130.70 M266.70 120.83 L273.30 120.83" fill="none" stroke="#000" stroke-width="1.3" stroke-linecap="round" stroke-linejoin="round"/>
<path d="M285.50 125.06 L294.20 125.06 M285.50 127.88 L294.20 127.88" fill="none" stroke="#000" stroke-width="1.3" stroke-linecap="round" stroke-linejoin="round"/>
<path d="M305.86 123.71 L305.86 123.27 L306.33 122.40 L306.79 121.96 L307.72 121.52 L309.58 121.52 L310.51 121.96 L310.98 122.40 L311.44 123.27 L311.44 124.14 L310.98 125.02 L310.05 126.33 L305.40 130.70 L311.91 130.70 M317.49 121.52 L316.09 121.96 L315.16 123.27 L314.70 125.45 L314.70 126.77 L315.16 128.95 L316.09 130.26 L317.49 130.70 L318.41 130.70 L319.81 130.26 L320.74 128.95 L321.20 126.77 L321.20 125.45 L320.74 123.27 L319.81 121.96 L318.41 121.52 L317.49 121.52 M326.78 121.52 L325.39 121.96 L324.46 123.27 L323.99 125.45 L323.99 126.77 L324.46 128.95 L325.39 130.26 L326.78 130.70 L327.71 130.70 L329.11 130.26 L330.04 128.95 L330.50 126.77 L330.50 125.45 L330.04 123.27 L329.11 121.96 L327.71 121.52 L326.78 121.52" fill="none" stroke="#000" stroke-width="1.3" stroke-linecap="round" stroke-linejoin="round"/>
<path d="M342.70 120.83 L342.70 130.70 M342.70 120.83 L346.42 130.70 M350.15 120.83 L346.42 130.70 M350.15 120.83 L350.15 130.70 M353.41 126.94 L358.99 126.94 L358.99 126.00 L358.53 125.06 L358.06 124.59 L357.13 124.12 L355.73 124.12 L354.80 124.59 L353.87 125.53 L353.41 126.94 L353.41 127.88 L353.87 129.29 L354.80 130.23 L355.73 130.70 L357.13 130.70 L358.06 130.23 L358.99 129.29 M360.85 120.83 L364.58 130.70 M368.30 120.83 L364.58 130.70" fill="none" stroke="#000" stroke-width="1.3" stroke-linecap="round" stroke-linejoin="round"/>
<path d="M90.39 388.35 L98.04 388.35 L93.87 394.04 L95.95 394.04 L97.35 394.76 L98.04 395.47 L98.74 397.60 L98.74 399.03 L98.04 401.16 L96.65 402.59 L94.56 403.30 L92.48 403.30 L90.39 402.59 L89.70 401.88 L89.00 400.45 M104.30 401.88 L103.60 402.59 L104.30 403.30 L105.00 402.59 L104.30 401.88 M114.04 388.35 L111.95 389.06 L110.56 391.20 L109.86 394.76 L109.86 396.89 L110.56 400.45 L111.95 402.59 L114.04 403.30 L115.43 403.30 L117.51 402.59 L118.90 400.45 L119.60 396.89 L119.60 394.76 L118.90 391.20 L117.51 389.06 L115.43 388.35 L114.04 388.35" fill="none" stroke="#000" stroke-width="1.3" stroke-linecap="round" stroke-linejoin="round"/>
<path d="M234.26 388.35 L241.73 388.35 L237.65 394.04 L239.69 394.04 L241.05 394.76 L241.73 395.47 L242.41 397.60 L242.41 399.03 L241.73 401.16 L240.37 402.59 L238.33 403.30 L236.29 403.30 L234.26 402.59 L233.58 401.88 L232.90 400.45 M247.84 401.88 L247.16 402.59 L247.84 403.30 L248.52 402.59 L247.84 401.88 M255.31 391.20 L256.66 390.48 L258.70 388.35 L258.70 403.30" fill="none" stroke="#000" stroke-width="1.3" stroke-linecap="round" stroke-linejoin="round"/>
<path d="M373.22 388.35 L381.02 388.35 L376.76 394.04 L378.89 394.04 L380.31 394.76 L381.02 395.47 L381.73 397.60 L381.73 399.03 L381.02 401.16 L379.60 402.59 L377.47 403.30 L375.35 403.30 L373.22 402.59 L372.51 401.88 L371.80 400.45 M387.40 401.88 L386.69 402.59 L387.40 403.30 L388.11 402.59 L387.40 401.88 M393.78 391.91 L393.78 391.20 L394.49 389.77 L395.20 389.06 L396.62 388.35 L399.45 388.35 L400.87 389.06 L401.58 389.77 L402.29 391.20 L402.29 392.62 L401.58 394.04 L400.16 396.18 L393.07 403.30 L403.00 403.30" fill="none" stroke="#000" stroke-width="1.3" stroke-linecap="round" stroke-linejoin="round"/>
<path d="M193.90 425.75 L193.90 443.50 M193.90 425.75 L201.55 443.50 M209.20 425.75 L201.55 443.50 M209.20 425.75 L209.20 443.50" fill="none" stroke="#000" stroke-width="1.3" stroke-linecap="round" stroke-linejoin="round"/>
<path d="M235.80 422.38 L234.09 424.06 L232.37 426.60 L230.66 429.98 L229.80 434.20 L229.80 437.58 L230.66 441.81 L232.37 445.19 L234.09 447.73 L235.80 449.42 M253.80 429.98 L252.94 428.29 L251.23 426.60 L249.51 425.75 L246.09 425.75 L244.37 426.60 L242.66 428.29 L241.80 429.98 L240.94 432.51 L240.94 436.74 L241.80 439.27 L242.66 440.96 L244.37 442.65 L246.09 443.50 L249.51 443.50 L251.23 442.65 L252.94 440.96 L253.80 439.27 L253.80 436.74 M249.51 436.74 L253.80 436.74 M258.94 436.74 L269.23 436.74 L269.23 435.05 L268.37 433.36 L267.51 432.51 L265.80 431.67 L263.23 431.67 L261.51 432.51 L259.80 434.20 L258.94 436.74 L258.94 438.43 L259.80 440.96 L261.51 442.65 L263.23 443.50 L265.80 443.50 L267.51 442.65 L269.23 440.96 M272.66 425.75 L279.51 443.50 M286.37 425.75 L279.51 443.50 M289.80 422.38 L291.51 424.06 L293.23 426.60 L294.94 429.98 L295.80 434.20 L295.80 437.58 L294.94 441.81 L293.23 445.19 L291.51 447.73 L289.80 449.42" fill="none" stroke="#000" stroke-width="1.3" stroke-linecap="round" stroke-linejoin="round"/>
<path d="M83.27 104.57 L88.06 104.57 L85.45 108.01 L86.76 108.01 L87.63 108.44 L88.06 108.87 L88.50 110.16 L88.50 111.02 L88.06 112.31 L87.19 113.17 L85.89 113.60 L84.58 113.60 L83.27 113.17 L82.84 112.74 L82.40 111.88" fill="none" stroke="#000" stroke-width="1.3" stroke-linecap="round" stroke-linejoin="round"/>
<path d="M73.73 112.65 L71.41 113.36 L69.87 115.50 L69.10 119.06 L69.10 121.19 L69.87 124.75 L71.41 126.89 L73.73 127.60 L75.27 127.60 L77.59 126.89 L79.13 124.75 L79.90 121.19 L79.90 119.06 L79.13 115.50 L77.59 113.36 L75.27 112.65 L73.73 112.65" fill="none" stroke="#000" stroke-width="1.3" stroke-linecap="round" stroke-linejoin="round"/>
<path d="M61.44 115.50 L62.86 114.78 L65.00 112.65 L65.00 127.60" fill="none" stroke="#000" stroke-width="1.3" stroke-linecap="round" stroke-linejoin="round"/>
<path d="M83.11 143.92 L83.11 143.49 L83.53 142.63 L83.94 142.20 L84.77 141.77 L86.43 141.77 L87.26 142.20 L87.67 142.63 L88.09 143.49 L88.09 144.35 L87.67 145.21 L86.84 146.50 L82.70 150.80 L88.50 150.80" fill="none" stroke="#000" stroke-width="1.3" stroke-linecap="round" stroke-linejoin="round"/>
<path d="M74.03 149.85 L71.71 150.56 L70.17 152.70 L69.40 156.26 L69.40 158.39 L70.17 161.95 L71.71 164.09 L74.03 164.80 L75.57 164.80 L77.89 164.09 L79.43 161.95 L80.20 158.39 L80.20 156.26 L79.43 152.70 L77.89 150.56 L75.57 149.85 L74.03 149.85" fill="none" stroke="#000" stroke-width="1.3" stroke-linecap="round" stroke-linejoin="round"/>
<path d="M61.74 152.70 L63.16 151.98 L65.30 149.85 L65.30 164.80" fill="none" stroke="#000" stroke-width="1.3" stroke-linecap="round" stroke-linejoin="round"/>
<path d="M86.10 180.69 L86.98 180.26 L88.30 178.97 L88.30 188.00" fill="none" stroke="#000" stroke-width="1.3" stroke-linecap="round" stroke-linejoin="round"/>
<path d="M76.43 187.05 L74.11 187.76 L72.57 189.90 L71.80 193.46 L71.80 195.59 L72.57 199.15 L74.11 201.29 L76.43 202.00 L77.97 202.00 L80.29 201.29 L81.83 199.15 L82.60 195.59 L82.60 193.46 L81.83 189.90 L80.29 187.76 L77.97 187.05 L76.43 187.05" fill="none" stroke="#000" stroke-width="1.3" stroke-linecap="round" stroke-linejoin="round"/>
<path d="M64.14 189.90 L65.56 189.18 L67.70 187.05 L67.70 202.00" fill="none" stroke="#000" stroke-width="1.3" stroke-linecap="round" stroke-linejoin="round"/>
<path d="M85.19 216.17 L83.94 216.60 L83.11 217.89 L82.70 220.04 L82.70 221.33 L83.11 223.48 L83.94 224.77 L85.19 225.20 L86.01 225.20 L87.26 224.77 L88.09 223.48 L88.50 221.33 L88.50 220.04 L88.09 217.89 L87.26 216.60 L86.01 216.17 L85.19 216.17" fill="none" stroke="#000" stroke-width="1.3" stroke-linecap="round" stroke-linejoin="round"/>
<path d="M74.03 224.25 L71.71 224.96 L70.17 227.10 L69.40 230.66 L69.40 232.79 L70.17 236.35 L71.71 238.49 L74.03 239.20 L75.57 239.20 L77.89 238.49 L79.43 236.35 L80.20 232.79 L80.20 230.66 L79.43 227.10 L77.89 224.96 L75.57 224.25 L74.03 224.25" fill="none" stroke="#000" stroke-width="1.3" stroke-linecap="round" stroke-linejoin="round"/>
<path d="M61.74 227.10 L63.16 226.38 L65.30 224.25 L65.30 239.20" fill="none" stroke="#000" stroke-width="1.3" stroke-linecap="round" stroke-linejoin="round"/>
<path d="M86.10 255.09 L86.98 254.66 L88.30 253.37 L88.30 262.40" fill="none" stroke="#000" stroke-width="1.3" stroke-linecap="round" stroke-linejoin="round"/>
<path d="M75.40 258.53 L82.60 258.53" fill="none" stroke="#000" stroke-width="1.3" stroke-linecap="round" stroke-linejoin="round"/>
<path d="M65.43 261.45 L63.11 262.16 L61.57 264.30 L60.80 267.86 L60.80 269.99 L61.57 273.55 L63.11 275.69 L65.43 276.40 L66.97 276.40 L69.29 275.69 L70.83 273.55 L71.60 269.99 L71.60 267.86 L70.83 264.30 L69.29 262.16 L66.97 261.45 L65.43 261.45" fill="none" stroke="#000" stroke-width="1.3" stroke-linecap="round" stroke-linejoin="round"/>
<path d="M53.14 264.30 L54.56 263.58 L56.70 261.45 L56.70 276.40" fill="none" stroke="#000" stroke-width="1.3" stroke-linecap="round" stroke-linejoin="round"/>
<path d="M83.11 292.72 L83.11 292.29 L83.53 291.43 L83.94 291.00 L84.77 290.57 L86.43 290.57 L87.26 291.00 L87.67 291.43 L88.09 292.29 L88.09 293.15 L87.67 294.01 L86.84 295.30 L82.70 299.60 L88.50 299.60" fill="none" stroke="#000" stroke-width="1.3" stroke-linecap="round" stroke-linejoin="round"/>
<path d="M72.90 295.73 L80.10 295.73" fill="none" stroke="#000" stroke-width="1.3" stroke-linecap="round" stroke-linejoin="round"/>
<path d="M63.93 298.65 L61.61 299.36 L60.07 301.50 L59.30 305.06 L59.30 307.19 L60.07 310.75 L61.61 312.89 L63.93 313.60 L65.47 313.60 L67.79 312.89 L69.33 310.75 L70.10 307.19 L70.10 305.06 L69.33 301.50 L67.79 299.36 L65.47 298.65 L63.93 298.65" fill="none" stroke="#000" stroke-width="1.3" stroke-linecap="round" stroke-linejoin="round"/>
<path d="M51.64 301.50 L53.06 300.78 L55.20 298.65 L55.20 313.60" fill="none" stroke="#000" stroke-width="1.3" stroke-linecap="round" stroke-linejoin="round"/>
<path d="M83.27 327.77 L88.06 327.77 L85.45 331.21 L86.76 331.21 L87.63 331.64 L88.06 332.07 L88.50 333.36 L88.50 334.22 L88.06 335.51 L87.19 336.37 L85.89 336.80 L84.58 336.80 L83.27 336.37 L82.84 335.94 L82.40 335.08" fill="none" stroke="#000" stroke-width="1.3" stroke-linecap="round" stroke-linejoin="round"/>
<path d="M72.60 332.93 L79.80 332.93" fill="none" stroke="#000" stroke-width="1.3" stroke-linecap="round" stroke-linejoin="round"/>
<path d="M63.63 335.85 L61.31 336.56 L59.77 338.70 L59.00 342.26 L59.00 344.39 L59.77 347.95 L61.31 350.09 L63.63 350.80 L65.17 350.80 L67.49 350.09 L69.03 347.95 L69.80 344.39 L69.80 342.26 L69.03 338.70 L67.49 336.56 L65.17 335.85 L63.63 335.85" fill="none" stroke="#000" stroke-width="1.3" stroke-linecap="round" stroke-linejoin="round"/>
<path d="M51.34 338.70 L52.76 337.98 L54.90 335.85 L54.90 350.80" fill="none" stroke="#000" stroke-width="1.3" stroke-linecap="round" stroke-linejoin="round"/>
<path d="M31.63 283.35 L43.70 287.40 M31.63 283.35 L43.70 279.30 M39.68 285.88 L39.68 280.82" fill="none" stroke="#000" stroke-width="1.3" stroke-linecap="round" stroke-linejoin="round"/>
<path d="M43.73 270.75 L49.65 271.93 L50.76 272.52 L51.13 272.97 L51.50 273.78 L51.50 274.52 L51.13 275.19 L50.76 275.48 L49.65 275.63 L48.91 275.48 M43.73 272.23 L43.73 269.27" fill="none" stroke="#000" stroke-width="1.6" stroke-linecap="round" stroke-linejoin="round"/>
<path d="M42.50 262.52 L54.02 269.00" fill="none" stroke="#000" stroke-width="1.3" stroke-linecap="round" stroke-linejoin="round"/>
<path d="M43.36 254.87 L54.09 257.02 M47.06 259.31 L46.32 258.79 L46.32 258.42 L48.17 258.42 L49.65 258.35 L50.76 257.83 L51.50 257.24 L51.50 255.76 L50.76 254.87 L49.65 253.91 L48.17 253.24 L46.32 252.50 L46.32 252.13 L47.06 251.91" fill="none" stroke="#000" stroke-width="1.5" stroke-linecap="round" stroke-linejoin="round"/>
<path d="M30.45 234.60 L31.55 235.94 L33.20 237.29 L35.40 238.63 L38.15 239.30 L40.35 239.30 L43.10 238.63 L45.30 237.29 L46.95 235.94 L48.05 234.60" fill="none" stroke="#000" stroke-width="1.3" stroke-linecap="round" stroke-linejoin="round"/>
<path d="M34.60 223.70 L33.40 224.29 L32.20 225.48 L31.60 226.67 L31.60 229.04 L32.20 230.23 L33.40 231.41 L34.60 232.01 L36.40 232.60 L39.40 232.60 L41.20 232.01 L42.40 231.41 L43.60 230.23 L44.20 229.04 L44.20 226.67 L43.60 225.48 L42.40 224.29 L41.20 223.70 L39.40 223.70 M39.40 226.67 L39.40 223.70" fill="none" stroke="#000" stroke-width="1.3" stroke-linecap="round" stroke-linejoin="round"/>
<path d="M39.40 221.30 L39.40 213.80 L38.20 213.80 L37.00 214.43 L36.40 215.05 L35.80 216.30 L35.80 218.18 L36.40 219.43 L37.60 220.68 L39.40 221.30 L40.60 221.30 L42.40 220.68 L43.60 219.43 L44.20 218.18 L44.20 216.30 L43.60 215.05 L42.40 213.80" fill="none" stroke="#000" stroke-width="1.3" stroke-linecap="round" stroke-linejoin="round"/>
<path d="M31.60 211.80 L44.20 206.60 M31.60 201.40 L44.20 206.60" fill="none" stroke="#000" stroke-width="1.3" stroke-linecap="round" stroke-linejoin="round"/>
<path d="M33.56 199.60 L33.56 193.05 M31.04 190.13 L30.68 190.13 L29.96 189.77 L29.60 189.41 L29.24 188.68 L29.24 187.22 L29.60 186.49 L29.96 186.13 L30.68 185.76 L31.40 185.76 L32.12 186.13 L33.20 186.86 L36.80 190.50 L36.80 185.40" fill="none" stroke="#000" stroke-width="1.3" stroke-linecap="round" stroke-linejoin="round"/>
<path d="M30.45 184.00 L31.55 182.66 L33.20 181.31 L35.40 179.97 L38.15 179.30 L40.35 179.30 L43.10 179.97 L45.30 181.31 L46.95 182.66 L48.05 184.00" fill="none" stroke="#000" stroke-width="1.3" stroke-linecap="round" stroke-linejoin="round"/></svg></body></html>
